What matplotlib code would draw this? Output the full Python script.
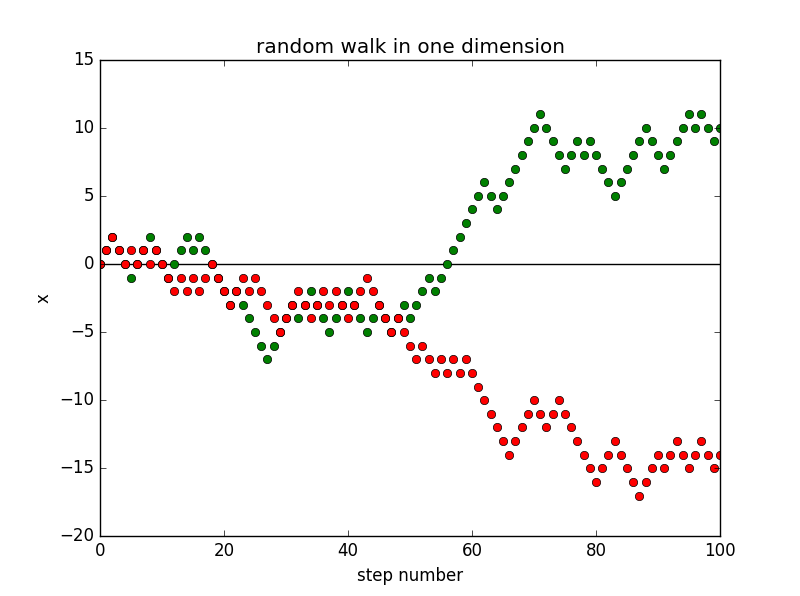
import matplotlib
matplotlib.use("Agg")
import matplotlib.pyplot as plt

plt.style.use("classic")

steps = list(range(101))

walk_green = [0, 1, 2, 1, 0, -1, 0, 1, 2, 1, 0, -1, 0, 1, 2, 1, 2, 1, 0, -1,
              -2, -3, -2, -3, -4, -5, -6, -7, -6, -5, -4, -3, -4, -3, -2, -3, -4, -5, -4, -3,
              -2, -3, -4, -5, -4, -3, -4, -5, -4, -3, -4, -3, -2, -1, -2, -1, 0, 1, 2, 3,
              4, 5, 6, 5, 4, 5, 6, 7, 8, 9, 10, 11, 10, 9, 8, 7, 8, 9, 8, 9,
              8, 7, 6, 5, 6, 7, 8, 9, 10, 9, 8, 7, 8, 9, 10, 11, 10, 11, 10, 9,
              10]

walk_red = [0, 1, 2, 1, 0, 1, 0, 1, 0, 1, 0, -1, -2, -1, -2, -1, -2, -1, 0, -1,
            -2, -3, -2, -1, -2, -1, -2, -3, -4, -5, -4, -3, -2, -3, -4, -3, -2, -3, -2, -3,
            -4, -3, -2, -1, -2, -3, -4, -5, -4, -5, -6, -7, -6, -7, -8, -7, -8, -7, -8, -7,
            -8, -9, -10, -11, -12, -13, -14, -13, -12, -11, -10, -11, -12, -11, -10, -11, -12, -13, -14, -15,
            -16, -15, -14, -13, -14, -15, -16, -17, -16, -15, -14, -15, -14, -13, -14, -15, -14, -13, -14, -15,
            -14]

fig = plt.figure(figsize=(8, 5.96), dpi=100, facecolor="white")
ax = fig.add_axes([0.125, 0.1, 0.775, 0.8])
ax.axhline(0, color="k")
ax.plot(steps, walk_green, "go")
ax.plot(steps, walk_red, "ro")
ax.set_xlim(0, 100)
ax.set_ylim(-20, 15)
ax.set_title("random walk in one dimension")
ax.set_xlabel("step number")
ax.set_ylabel("x")
fig.savefig("out.png", dpi=100, facecolor="white")
